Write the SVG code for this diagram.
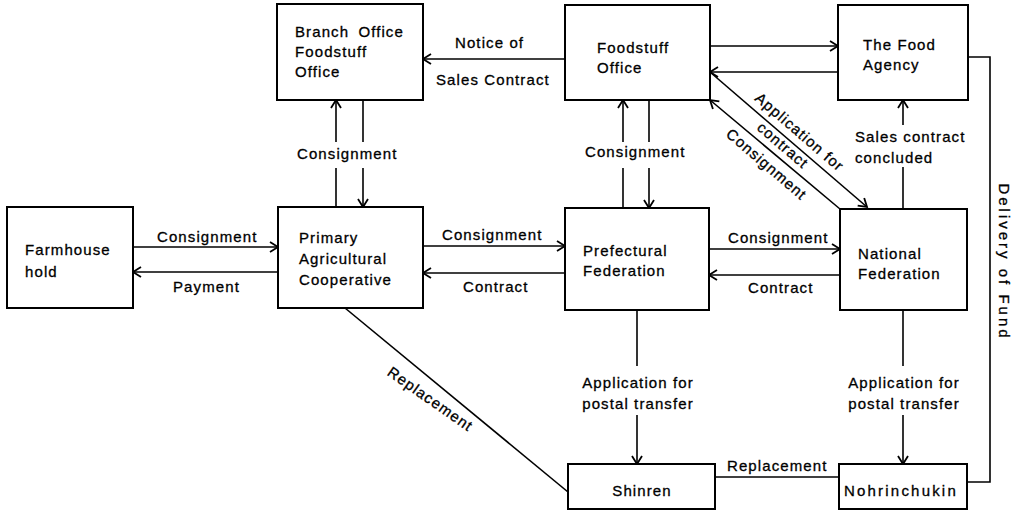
<svg xmlns="http://www.w3.org/2000/svg" width="1019" height="511" viewBox="0 0 1019 511">
  <style>
    .box { fill: #fff; stroke: #000; stroke-width: 2; }
    .ln { fill: none; stroke: #000; stroke-width: 1.6; }
    .ar { fill: none; stroke: #000; stroke-width: 1.6; marker-end: url(#arr); }
    text { font-family: "Liberation Sans", Arial, sans-serif; font-size: 15px; letter-spacing: 1.1px; fill: #000; stroke: #000; stroke-width: 0.3px; }
    .mid { text-anchor: middle; }
  </style>
  <defs>
    <marker id="arr" markerWidth="12" markerHeight="12" refX="10" refY="6" orient="auto" markerUnits="userSpaceOnUse">
      <path d="M2,1 L10,6 L2,11" fill="none" stroke="#000" stroke-width="1.8"/>
    </marker>
  </defs>
  <rect width="1019" height="511" fill="#fff"/>

  <!-- connectors and their labels -->
  <g id="connectors">
    <!-- Farmhouse <-> Primary -->
    <line class="ar" x1="133" y1="247" x2="278" y2="247"/>
    <line class="ar" x1="278" y1="272" x2="133" y2="272"/>
    <text x="157" y="242">Consignment</text>
    <text x="173" y="292">Payment</text>

    <!-- Primary <-> Prefectural -->
    <line class="ar" x1="423" y1="246" x2="565" y2="246"/>
    <line class="ar" x1="565" y1="273" x2="423" y2="273"/>
    <text x="442" y="240">Consignment</text>
    <text x="463" y="292">Contract</text>

    <!-- Prefectural <-> National -->
    <line class="ar" x1="709" y1="249" x2="840" y2="249"/>
    <line class="ar" x1="840" y1="275" x2="709" y2="275"/>
    <text x="728" y="243">Consignment</text>
    <text x="748" y="293">Contract</text>

    <!-- Primary <-> Branch Office -->
    <line class="ln" x1="336" y1="207" x2="336" y2="168"/>
    <line class="ar" x1="336" y1="142" x2="336" y2="100"/>
    <line class="ln" x1="363" y1="100" x2="363" y2="142"/>
    <line class="ar" x1="363" y1="168" x2="363" y2="207"/>
    <text x="297" y="159">Consignment</text>

    <!-- Prefectural <-> Foodstuff Office -->
    <line class="ln" x1="623" y1="208" x2="623" y2="168"/>
    <line class="ar" x1="623" y1="142" x2="623" y2="100"/>
    <line class="ln" x1="649" y1="100" x2="649" y2="142"/>
    <line class="ar" x1="649" y1="168" x2="649" y2="208"/>
    <text x="585" y="157">Consignment</text>

    <!-- Foodstuff Office -> Branch Office -->
    <line class="ar" x1="565" y1="59" x2="423" y2="59"/>
    <text x="455" y="48">Notice of</text>
    <text x="436" y="85">Sales Contract</text>

    <!-- Foodstuff Office <-> Food Agency -->
    <line class="ar" x1="710" y1="46" x2="838" y2="46"/>
    <line class="ar" x1="838" y1="72" x2="710" y2="72"/>

    <!-- Foodstuff Office <-> National (diagonals) -->
    <line class="ar" x1="710" y1="72" x2="867" y2="207"/>
    <line class="ar" x1="840" y1="209" x2="710" y2="100"/>
    <g transform="translate(791,142) rotate(40.7)">
      <text class="mid" x="0" y="-8">Application for</text>
      <text class="mid" x="-4" y="13">contract</text>
      <text class="mid" x="-4" y="38">Consignment</text>
    </g>

    <!-- National -> Food Agency -->
    <line class="ln" x1="903" y1="209" x2="903" y2="167"/>
    <line class="ar" x1="903" y1="125" x2="903" y2="100"/>
    <text x="855" y="142">Sales contract</text>
    <text x="855" y="163">concluded</text>

    <!-- Food Agency -> Nohrinchukin (Delivery of Fund) -->
    <polyline class="ln" points="968,57 990,57 990,482 967,482"/>
    <text class="mid" transform="translate(999,262) rotate(90)" style="letter-spacing:3px">Delivery of Fund</text>

    <!-- Prefectural -> Shinren -->
    <line class="ln" x1="637" y1="310" x2="637" y2="366"/>
    <line class="ar" x1="637" y1="415" x2="637" y2="464"/>
    <text class="mid" x="638" y="388">Application for</text>
    <text class="mid" x="638" y="409">postal transfer</text>

    <!-- National -> Nohrinchukin -->
    <line class="ln" x1="903" y1="310" x2="903" y2="366"/>
    <line class="ar" x1="903" y1="415" x2="903" y2="464"/>
    <text class="mid" x="904" y="388">Application for</text>
    <text class="mid" x="904" y="409">postal transfer</text>

    <!-- Primary - Shinren (Replacement) -->
    <line class="ln" x1="345" y1="308" x2="568" y2="492"/>
    <text class="mid" transform="translate(436,391) rotate(35)" x="0" y="15">Replacement</text>

    <!-- Shinren - Nohrinchukin (Replacement) -->
    <line class="ln" x1="715" y1="477" x2="839" y2="477"/>
    <text x="727" y="471">Replacement</text>
  </g>

  <!-- nodes -->
  <g id="farmhouse">
    <rect class="box" x="7" y="207" width="126" height="101"/>
    <text x="25" y="255">Farmhouse</text>
    <text x="25" y="277">hold</text>
  </g>
  <g id="primary">
    <rect class="box" x="278" y="207" width="145" height="101"/>
    <text x="299" y="243">Primary</text>
    <text x="299" y="264">Agricultural</text>
    <text x="299" y="285">Cooperative</text>
  </g>
  <g id="prefectural">
    <rect class="box" x="565" y="208" width="144" height="102"/>
    <text x="583" y="256">Prefectural</text>
    <text x="583" y="276">Federation</text>
  </g>
  <g id="national">
    <rect class="box" x="840" y="209" width="127" height="101"/>
    <text x="858" y="259">National</text>
    <text x="858" y="279">Federation</text>
  </g>
  <g id="branch-office">
    <rect class="box" x="277" y="4" width="146" height="96"/>
    <text x="295" y="37" style="word-spacing:4px">Branch Office</text>
    <text x="295" y="57">Foodstuff</text>
    <text x="295" y="77">Office</text>
  </g>
  <g id="foodstuff-office">
    <rect class="box" x="565" y="5" width="145" height="95"/>
    <text x="597" y="53">Foodstuff</text>
    <text x="597" y="73">Office</text>
  </g>
  <g id="food-agency">
    <rect class="box" x="838" y="5" width="130" height="95"/>
    <text x="863" y="50">The Food</text>
    <text x="863" y="70">Agency</text>
  </g>
  <g id="shinren">
    <rect class="box" x="568" y="464" width="147" height="45"/>
    <text class="mid" x="642" y="496">Shinren</text>
  </g>
  <g id="nohrinchukin">
    <rect class="box" x="839" y="464" width="128" height="45"/>
    <text x="844" y="496" style="letter-spacing:2.2px">Nohrinchukin</text>
  </g>
</svg>
